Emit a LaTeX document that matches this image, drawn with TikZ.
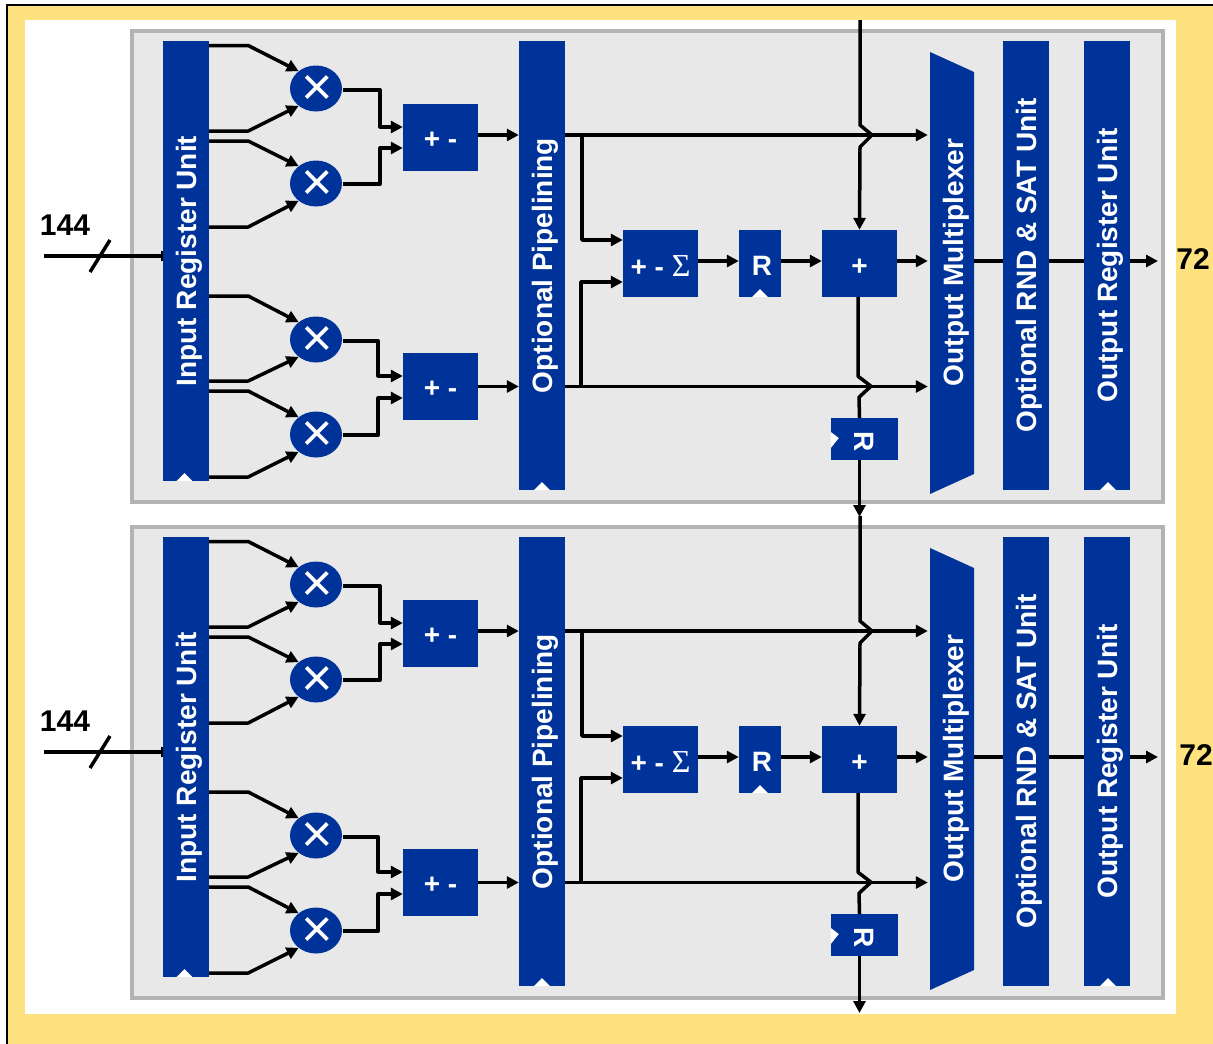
\documentclass[tikz,border=0pt]{standalone}
\usepackage{fontspec}
\usepackage{graphicx}
\setmainfont{Liberation Sans}
\newfontfamily\sigmafont{Liberation Serif}
\usetikzlibrary{arrows.meta,shapes.geometric}
\definecolor{unitblue}{HTML}{003399}
\definecolor{framefill}{HTML}{FEE27F}
\definecolor{panelfill}{HTML}{E8E8E8}
\definecolor{panelline}{HTML}{B3B3B3}
\newcommand{\clockmark}[1]{\fill[white] (#1) ++(-8,0) -- ++(8,-8) -- ++(8,8) -- cycle;}
\newcommand{\boxtext}[3]{\raisebox{-#3}[\height][\depth]{#1}\hspace{#2}}
\newcommand{\bartext}[2][6pt]{\hspace*{#1}\rotatebox{90}{#2}}
\newcommand{\mulsign}{\hspace*{2pt}\raisebox{-2pt}[\height][\depth]{×}}
\tikzset{
  panel/.style={draw=panelline, fill=panelfill, line width=4pt, minimum width=1031pt, minimum height=471pt, inner sep=0pt},
  bar/.style={fill=unitblue, text=white, font=\fontsize{28}{30}\selectfont\bfseries, minimum width=46pt, inner sep=0pt},
  barlabel/.style={text=white, font=\fontsize{28}{30}\selectfont\bfseries, minimum width=44pt, inner sep=0pt},
  mulnode/.style={ellipse, fill=unitblue, text=white, font=\fontsize{54}{54}\selectfont, minimum width=52pt, minimum height=46pt, inner sep=0pt},
  block/.style={fill=unitblue, text=white, font=\fontsize{28}{30}\selectfont\bfseries, minimum width=75pt, minimum height=67pt, inner sep=0pt},
  wire/.style={line width=3.5pt, line join=round},
  widthlabel/.style={font=\fontsize{30}{32}\selectfont\bfseries, inner sep=0pt}
}
\begin{document}
\begin{tikzpicture}[x=1pt, y=-1pt, >={Triangle[length=12pt,width=12pt]}]
  \useasboundingbox (0,0) rectangle (1213,1044);
  \fill[framefill] (7,5) rectangle (1213,1044);
  \draw[line width=2pt] (7,1044) -- (7,5) -- (1213,5);
  \fill[white] (25,20) rectangle (1176,1014);
  \foreach \u/\dy/\lx in {a/0/1193, b/496/1196} {
    \begin{scope}[yshift=-\dy pt]
      \node[panel] (panel\u) at (647,266.5) {};
      \fill[unitblue] (930,52) -- (974,72) -- (974,474) -- (930,494) -- cycle;
      \node[bar, minimum height=440pt] (inreg\u) at (186,261) {\bartext{Input Register Unit}};
      \node[bar, minimum height=449pt] (pipe\u) at (542,265.5) {\bartext{Optional Pipelining}};
      \node[barlabel] (mux\u) at (952,262.5) {\bartext[8pt]{Output Multiplexer}};
      \node[bar, minimum height=449pt] (rnd\u) at (1026,265.5) {\bartext{Optional RND \& SAT Unit}};
      \node[bar, minimum height=449pt] (outreg\u) at (1107,265.5) {\bartext{Output Register Unit}};
      \node[mulnode] (mula\u) at (316,88.5) {\mulsign};
      \node[mulnode] (mulb\u) at (316,183.5) {\mulsign};
      \node[mulnode] (mulc\u) at (316,339.5) {\mulsign};
      \node[mulnode] (muld\u) at (316,434.5) {\mulsign};
      \node[block] (addab\u) at (440.5,137.5) {\boxtext{+ -}{32pt}{3pt}};
      \node[block] (addcd\u) at (440.5,386.5) {\boxtext{+ -}{32pt}{3pt}};
      \node[block] (sum\u) at (660.5,263.5) {\boxtext{+ - {\sigmafont\mdseries\fontsize{32}{32}\selectfont Σ}}{0pt}{3pt}};
      \node[block, minimum width=42pt] (rega\u) at (760,263.5) {\hspace*{4pt}\boxtext{R}{0pt}{2pt}};
      \node[block] (plus\u) at (859.5,263.5) {\boxtext{+}{0pt}{4pt}};
      \node[block, minimum width=67pt, minimum height=42pt] (regb\u) at (864.5,439) {\boxtext{\rotatebox{-90}{R}}{0pt}{3pt}};
      \clockmark{[xshift=-1.5pt]inreg\u.south}
      \clockmark{pipe\u.south}
      \clockmark{[xshift=1pt]outreg\u.south}
      \clockmark{rega\u.south}
      \fill[white] ([yshift=7pt]regb\u.west) -- ([shift={(8,-1)}]regb\u.west) -- ([yshift=-9pt]regb\u.west) -- cycle;
      \coordinate (level\u) at (0,261);
      \coordinate (in\u) at (44,256);
      \coordinate (out\u) at (1158,261);
      \coordinate (top\u) at (860,20);
      \coordinate (bottom\u) at (859.5,517);
      \node[widthlabel] (inwidth\u) at (65,225) {144};
      \node[widthlabel] (outwidth\u) at (\lx,259) {72};
      \draw[wire, -{Bar[width=10pt,line width=1.5pt]}] (in\u) -- (inreg\u.west |- in\u);
      \draw[wire] (90,272) -- (110,240);
      \draw[wire, ->] (inreg\u.east |- 0,45.5) -- ++(39,0) -- (mula\u.135);
      \draw[wire, ->] (inreg\u.east |- 0,131) -- ++(39,0) -- (mula\u.225);
      \draw[wire, ->] (inreg\u.east |- 0,141) -- ++(39,0) -- (mulb\u.135);
      \draw[wire, ->] (inreg\u.east |- 0,227) -- ++(39,0) -- (mulb\u.225);
      \draw[wire, ->] (inreg\u.east |- 0,296) -- ++(39,0) -- (mulc\u.135);
      \draw[wire, ->] (inreg\u.east |- 0,381) -- ++(39,0) -- (mulc\u.225);
      \draw[wire, ->] (inreg\u.east |- 0,391) -- ++(39,0) -- (muld\u.135);
      \draw[wire, ->] (inreg\u.east |- 0,477) -- ++(39,0) -- (muld\u.225);
      \draw[wire, ->] ([shift={(1,1.5)}]mula\u.east) -- ++(37,0) |- (addab\u.west |- 0,127);
      \draw[wire, ->] ([shift={(1,0.5)}]mulb\u.east) -- ++(37,0) |- (addab\u.west |- 0,148);
      \draw[wire, ->] ([shift={(1,1.5)}]mulc\u.east) -- ++(35,0) |- (addcd\u.west |- 0,376);
      \draw[wire, ->] ([shift={(1,0.5)}]muld\u.east) -- ++(35,0) |- (addcd\u.west |- 0,398);
      \draw[wire, ->] (addab\u.east |- 0,135) -- (pipe\u.west |- 0,135);
      \draw[wire, ->] (addcd\u.east |- 0,386.5) -- (pipe\u.west |- 0,386.5);
      \draw[wire, ->] (pipe\u.east |- 0,135) -- ([xshift=-2pt]mux\u.west |- 0,135);
      \draw[wire, ->] (pipe\u.east |- 0,386.5) -- ([xshift=-2pt]mux\u.west |- 0,386.5);
      \draw[wire, ->] (582,135) |- (sum\u.west |- 0,240);
      \draw[wire, ->] (581,386.5) |- (sum\u.west |- 0,282);
      \draw[wire, ->] (sum\u.east |- level\u) -- (rega\u.west |- level\u);
      \draw[wire, ->] (rega\u.east |- level\u) -- (plus\u.west |- level\u);
      \draw[wire, ->] (plus\u.east |- level\u) -- ([xshift=-2pt]mux\u.west |- level\u);
      \draw[wire] (mux\u.east |- level\u) -- (rnd\u.west |- level\u);
      \draw[wire] (rnd\u.east |- level\u) -- (outreg\u.west |- level\u);
      \draw[wire, ->] (outreg\u.east |- level\u) -- (out\u);
      \draw[wire, ->] (top\u) -- ++(0,105) -- ++(12,10) -- ++(-12,12) -- (plus\u.north);
      \draw[wire] ([xshift=-1.5pt]plus\u.south) -- ++(0,79) -- ++(13,10) -- ++(-12,11) -- (regb\u.north -| plus\u.south);
      \draw[wire, ->] (regb\u.south -| plus\u.south) -- (bottom\u);
    \end{scope}
  }
\end{tikzpicture}
\end{document}
